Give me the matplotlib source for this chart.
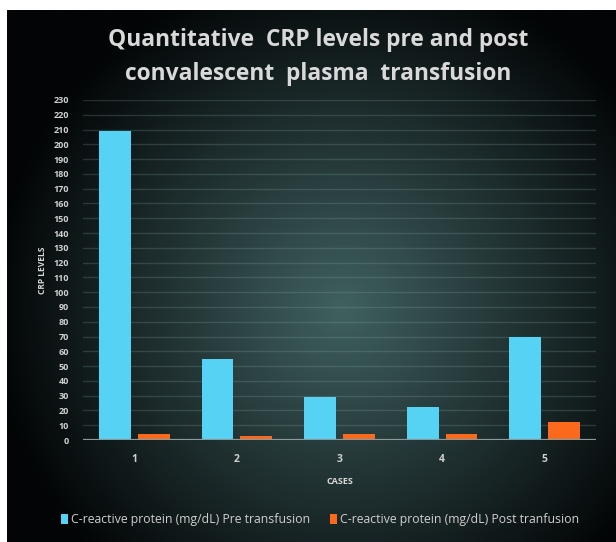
import numpy as np
import matplotlib
matplotlib.use("Agg")
import matplotlib.pyplot as plt

# Data
cases = ["1", "2", "3", "4", "5"]
crp_pre = [209, 55, 29, 22, 70]
crp_post = [4, 3, 4, 4, 12]
y_ticks = list(range(0, 231, 10))

title = "Quantitative  CRP levels pre and post\nconvalescent  plasma  transfusion"
label_pre = "C-reactive protein (mg/dL) Pre transfusion"
label_post = "C-reactive protein (mg/dL) Post tranfusion"

W, H = 616, 542
fig = plt.figure(figsize=(W / 100, H / 100), dpi=100, facecolor="white")

# Dark radial-gradient backdrop
bg_left, bg_top = 7 / W, 1 - 10 / H
bg = fig.add_axes([bg_left, 0, 1 - bg_left, bg_top])
bg.set_axis_off()
ny, nx = 300, 340
yy, xx = np.mgrid[0:ny, 0:nx]
cx, cy = nx * 0.55, ny * 0.56
r = np.sqrt(((xx - cx) / (nx * 0.58)) ** 2 + ((yy - cy) / (ny * 0.66)) ** 2)
t = np.clip(1 - r, 0, 1) ** 1.0
center = np.array([0x40, 0x60, 0x60]) / 255
edge = np.array([0x02, 0x04, 0x05]) / 255
img = edge[None, None, :] + (center - edge)[None, None, :] * t[..., None]
bg.imshow(img, aspect="auto", extent=[0, 1, 0, 1], origin="upper", interpolation="bilinear")
bg.set_xlim(0, 1)
bg.set_ylim(0, 1)

# Plot area
ax = fig.add_axes([83 / W, 1 - 440 / H, (596 - 83) / W, (440 - 100) / H])
ax.patch.set_alpha(0)
x = np.arange(len(cases))
bw = 0.31
off = 0.19
ax.bar(x - off, crp_pre, width=bw, color="#55d2f4", zorder=3, label=label_pre)
ax.bar(x + off, crp_post, width=bw, color="#fb6a1c", zorder=3, label=label_post)

ax.set_xlim(-0.5, len(cases) - 0.5)
ax.set_ylim(0, 230)
ax.set_yticks(y_ticks)
ax.set_yticklabels([str(v) for v in y_ticks])
ax.set_xticks(x)
ax.set_xticklabels(cases)

for v in y_ticks[1:]:
    ax.axhline(v, color="#8fb0b0", alpha=0.22, lw=1.0, zorder=1)
ax.axhline(0, color="#8a9a9a", lw=1.6, zorder=4)

for s in ax.spines.values():
    s.set_visible(False)
ax.tick_params(axis="both", length=0, colors="#d0d0d0")
ax.tick_params(axis="y", labelsize=6.5, pad=10)
ax.tick_params(axis="x", labelsize=7.5, pad=10)
for lab in ax.get_yticklabels() + ax.get_xticklabels():
    lab.set_fontfamily("Open Sans")
    lab.set_fontweight("bold")

ax.set_xlabel("CASES", color="#d8d8d8", fontsize=6.5, fontweight="bold",
              fontfamily="Open Sans", labelpad=9)
ax.set_ylabel("CRP LEVELS", color="#d8d8d8", fontsize=6, fontweight="bold",
              fontfamily="Open Sans", labelpad=5)

fig.text(0.516, 1 - 57 / H, title, ha="center", va="center", color="#d9d9d9",
         fontsize=16.4, fontweight="bold", fontfamily="Open Sans", linespacing=1.55)

leg = fig.legend(loc="center", bbox_to_anchor=(0.52, 1 - 520 / H), ncol=2,
                 frameon=False, handlelength=0.55, handleheight=0.85,
                 handletextpad=0.3, columnspacing=1.6,
                 prop={"family": "Open Sans", "size": 8.8})
for txt in leg.get_texts():
    txt.set_color("#cfcfcf")

fig.savefig("out.png", dpi=100, facecolor="white")
